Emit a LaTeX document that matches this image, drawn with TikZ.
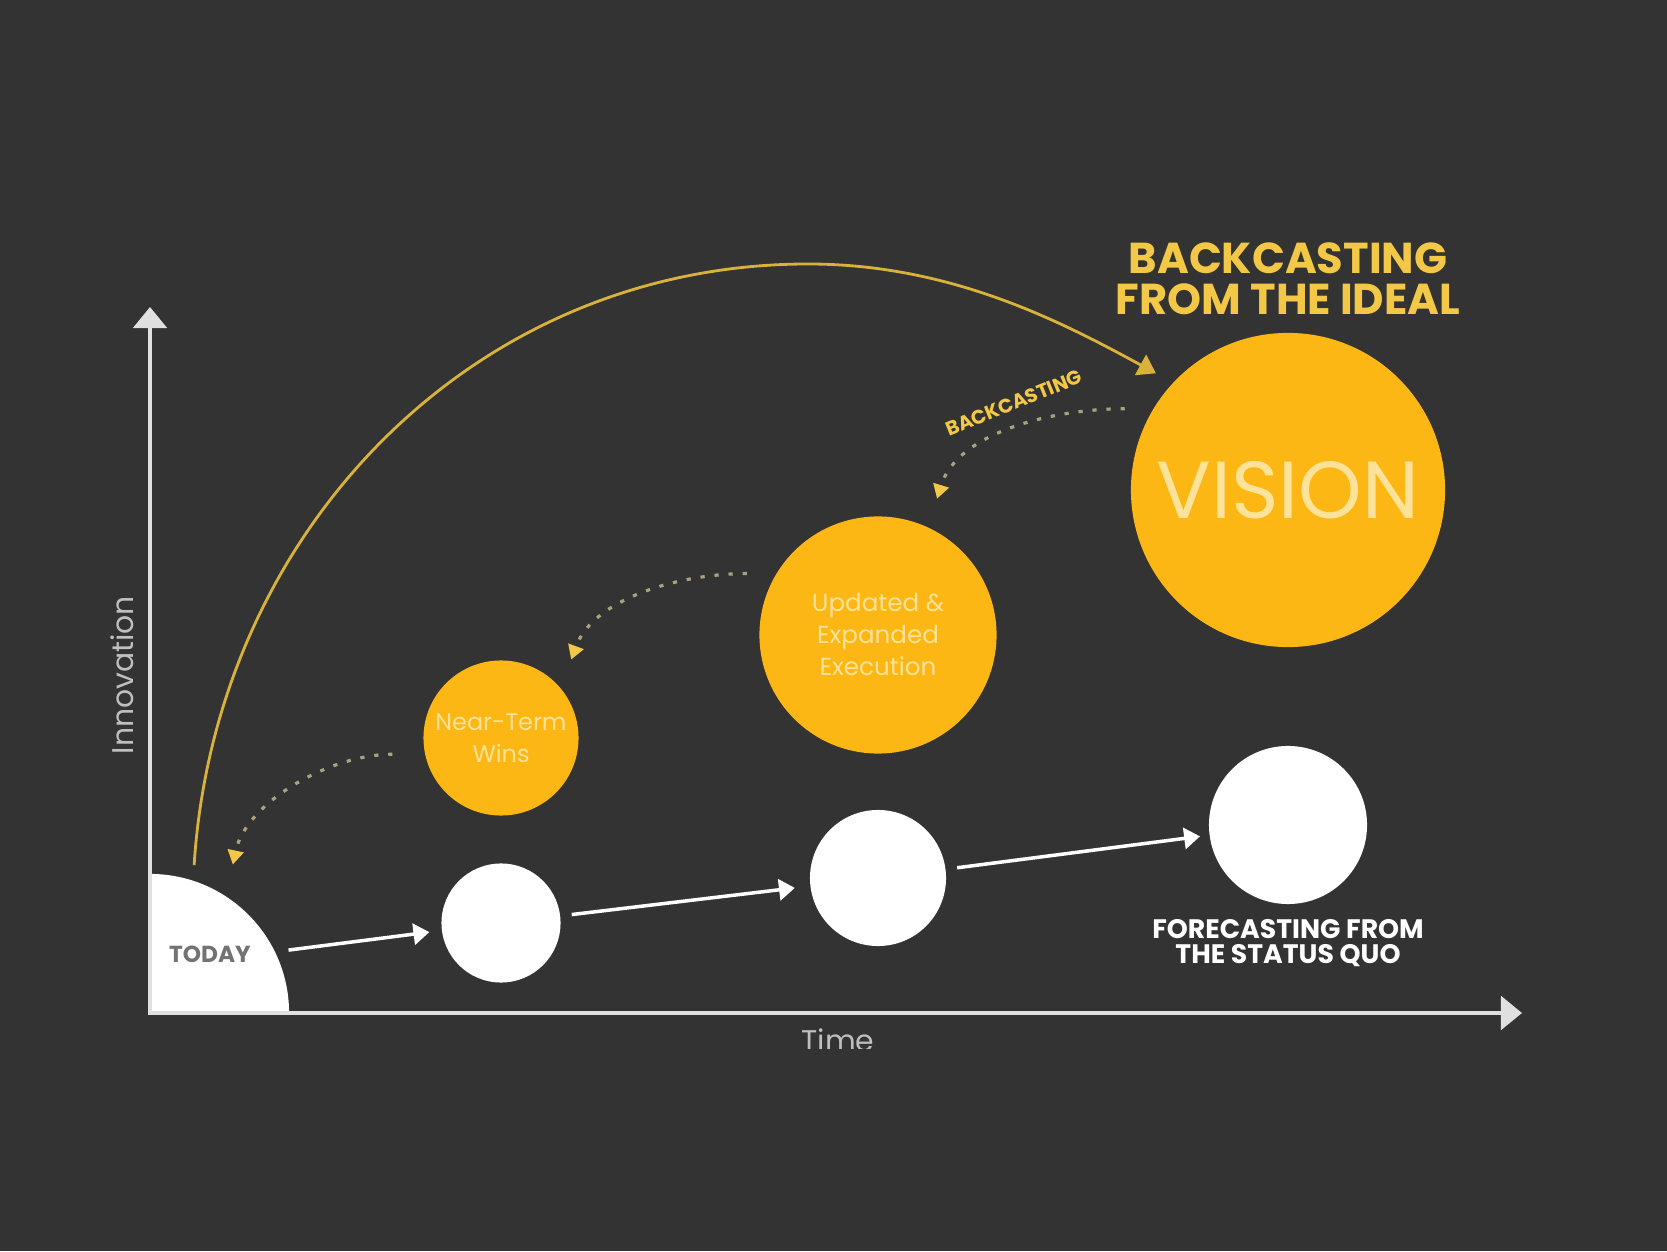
\documentclass[tikz,border=0pt]{standalone}
\usepackage{fontspec}
\setmainfont{Poppins}
\usepackage{tikz}
\usepackage{xcolor}
\usetikzlibrary{arrows.meta,positioning}
\definecolor{bgray}{HTML}{333333}
\definecolor{gold}{HTML}{FDB714}
\definecolor{goldtext}{HTML}{F3C847}
\definecolor{goldline}{HTML}{D9B23C}
\definecolor{paleyellow}{HTML}{FDE39A}
\definecolor{dotgray}{HTML}{A9A382}

\begin{document}
\begin{tikzpicture}[x=0.01cm,y=0.01cm,
  ball/.style={circle,fill=white,inner sep=0pt},
  sun/.style={circle,fill=gold,inner sep=0pt,text=paleyellow,align=center},
  fwd/.style={white,line width=1pt,shorten <=0.11cm,shorten >=0.12cm,-{Triangle[width=6pt,length=4.5pt]}},
  back/.style={dotgray,line width=0.9pt,dash pattern=on 1.2pt off 2.8pt,-{Triangle[width=4.5pt,length=4pt,color=goldtext]}},
  axis/.style={white!88!black,line width=1.2pt,{Triangle[width=9.5pt,length=6pt]}-{Triangle[width=9.5pt,length=6pt]}}]
\fill[bgray] (0,0) rectangle (1667,1251);
\useasboundingbox (0,0) rectangle (1667,1251);
\coordinate (origin) at (150,238);
\begin{scope}
\clip (origin) rectangle ++(200,200);
\node[ball,minimum size=2.78cm] (today) at (origin) {};
\end{scope}
\node[text=white!45!black,font=\bfseries\fontsize{6.6}{8}\selectfont] (todaylbl) at (210,297) {TODAY};
\draw[axis] (150,944) -- (origin) -- (1522,238);
\node[ball,minimum size=1.19cm] (fc1) at (501,328) {};
\node[ball,minimum size=1.36cm] (fc2) at (878,373) {};
\node[ball,minimum size=1.58cm] (fc3) at (1288,426) {};
\node[sun,minimum size=1.55cm,font=\fontsize{6.8}{9.1}\selectfont] (wins) at (501,513) {Near-Term\\Wins};
\node[sun,minimum size=2.37cm,font=\fontsize{7}{9.1}\selectfont] (upd) at (878,616) {Updated \&\\Expanded\\Execution};
\node[sun,minimum size=3.14cm,font=\fontsize{23}{25}\selectfont] (vision) at (1288,761) {VISION};
\draw[fwd,shorten <=0.13cm] (today.26) -- (fc1);
\draw[fwd,shorten >=0.15cm] (fc1) -- (fc2);
\draw[fwd,shorten >=0.09cm] (fc2) -- (fc3);
\draw[goldline,line width=0.8pt,shorten <=0.15cm,shorten >=0.19cm,-{Triangle[width=6.5pt,length=5pt]}] (today.72) .. controls (215,717) and (471,987) .. (808,987) .. controls (950,987) and (1060,930) .. (vision.137);
\draw[back,shorten <=0.28cm,shorten >=0.295cm] (vision.149.4) to[out=180,in=73] (upd.65);
\draw[back,shorten <=0.29cm,shorten >=0.3cm] (upd.149) to[out=180,in=70] (wins.40);
\draw[back,shorten <=0.32cm,shorten >=0.32cm] (wins.192.6) to[out=180,in=78] (today.57);
\node[rotate=22,text=goldtext,font=\bfseries\fontsize{5.6}{6}\selectfont] (backlbl) at (1014,848) {BACKCASTING};
\node[text=goldtext,font=\bfseries\fontsize{12.3}{11.6}\selectfont,align=center] (ideallbl) at (1288,972) {BACKCASTING\\FROM THE IDEAL};
\node[text=white,font=\bfseries\fontsize{7.6}{7}\selectfont,align=center] (forelbl) at (1288,308) {FORECASTING FROM\\THE STATUS QUO};
\node[rotate=90,text=white!75!black,font=\fontsize{8.5}{10}\selectfont] (innov) at (122,576) {Innovation};
\begin{scope}
\clip (0,203) rectangle (1667,1251);
\node[text=white!75!black,font=\fontsize{8.5}{10}\selectfont,anchor=base] (timelbl) at (838,200) {Time};
\end{scope}
\end{tikzpicture}
\end{document}
